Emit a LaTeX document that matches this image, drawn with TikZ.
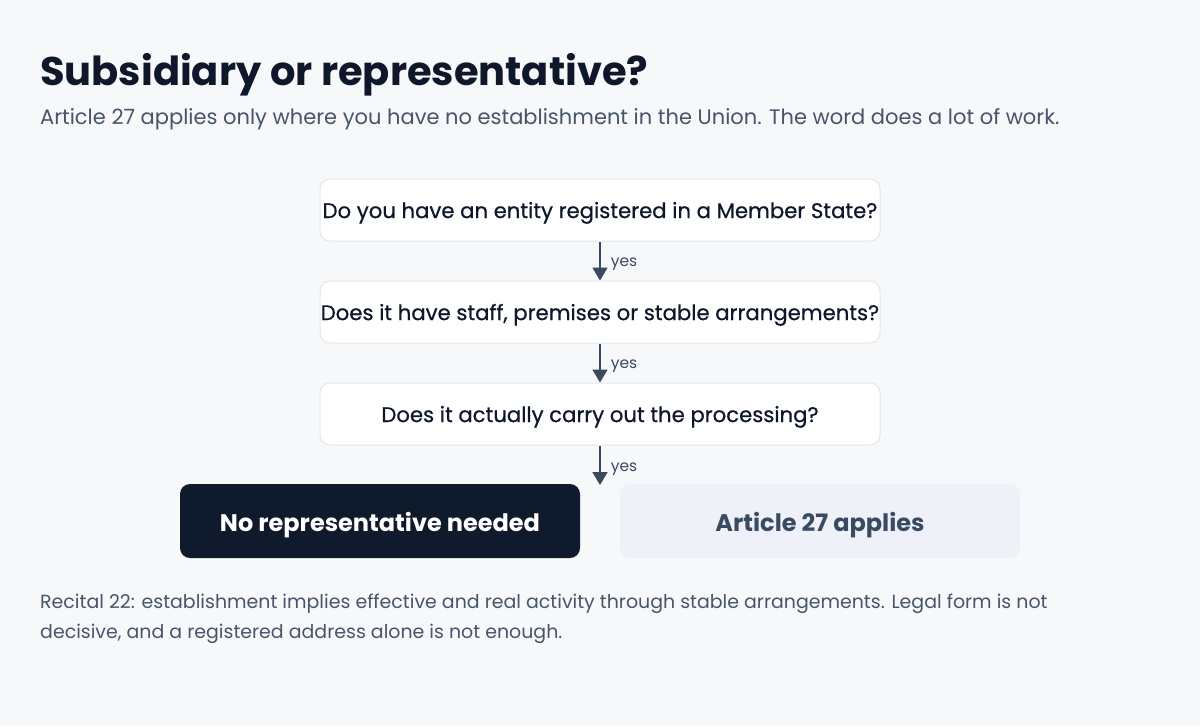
\documentclass[tikz,border=0pt]{standalone}
\usepackage{fontspec}
\setmainfont{Poppins}
\newfontfamily\medfont[FakeBold=0.6]{Poppins}
\usetikzlibrary{arrows.meta}
\definecolor{bg}{HTML}{F7F8FA}
\definecolor{ink}{HTML}{0F172A}
\definecolor{sub}{HTML}{475569}
\definecolor{edge}{HTML}{E2E6EC}
\definecolor{arrowc}{HTML}{3A4860}
\definecolor{darkbox}{HTML}{0F1B2D}
\definecolor{lightbox}{HTML}{EEF2F8}
\definecolor{lighttext}{HTML}{3B4A63}
\begin{document}
\begin{tikzpicture}[x=1pt,y=-1pt,
  qbox/.style={draw=edge, line width=1pt, fill=white, rounded corners=10pt,
    minimum width=560pt, minimum height=62pt, inner sep=0pt, text=ink, text depth=0pt,
    font=\medfont\fontsize{21.2}{25}\selectfont},
  endbox/.style={rounded corners=10pt, minimum width=400pt, minimum height=74pt,
    inner sep=0pt, text depth=0pt, text height=21pt, font=\fontsize{24}{28}\selectfont\bfseries},
  arr/.style={draw=arrowc, line width=1.6pt, -{Triangle[width=15pt,length=13pt]}, arrowc},
  yeslab/.style={right, inner sep=0pt, xshift=10pt, yshift=-3.5pt, text=lighttext, font=\fontsize{15.5}{18}\selectfont}
]
\fill[bg] (0,0) rectangle (1200,726);
\useasboundingbox (0,0) rectangle (1200,726);

\node[anchor=base west, inner sep=0pt, text=ink, font=\fontsize{40}{46}\selectfont\bfseries] (title) at (40,85) {Subsidiary or representative?};
\node[anchor=base west, inner sep=0pt, text=sub, font=\fontsize{21}{25}\selectfont] (subtitle) at (40,124) {Article 27 applies only where you have no establishment in the Union. The word does a lot of work.};

\node[qbox] (q1) at (600,210) {Do you have an entity registered in a Member State?};
\node[qbox] (q2) at (600,312) {Does it have staff, premises or stable arrangements?};
\node[qbox] (q3) at (600,414) {Does it actually carry out the processing?};

\node[endbox, fill=darkbox, text=white] (no) at (380,521) {No representative needed};
\node[endbox, fill=lightbox, text=lighttext] (yes) at (820,521) {Article 27 applies};

\coordinate (split) at (600,485);

\draw[arr] (q1.south) -- (q2.north) node[midway, yeslab] {yes};
\draw[arr] (q2.south) -- (q3.north) node[midway, yeslab] {yes};
\draw[arr] (q3.south) -- (split) node[midway, yeslab] {yes};

\node[anchor=base west, inner sep=0pt, align=left, text=sub, font=\fontsize{18.95}{30}\selectfont] (note) at (40,638) {Recital 22: establishment implies effective and real activity through stable arrangements. Legal form is not\\decisive, and a registered address alone is not enough.};
\end{tikzpicture}
\end{document}
